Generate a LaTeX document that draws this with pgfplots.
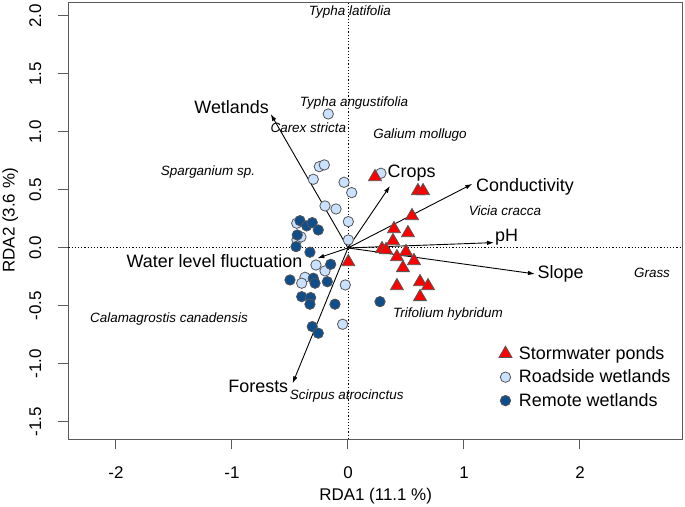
\documentclass[border=0pt]{standalone}
\usepackage{fontspec}
\setmainfont{Liberation Sans}
\usepackage{pgfplots}
\pgfplotsset{compat=1.18}
\usetikzlibrary{arrows.meta}
\definecolor{stormred}{RGB}{255,0,0}
\definecolor{roadblue}{RGB}{202,225,255}
\definecolor{remoteblue}{RGB}{16,78,139}
\definecolor{edgegray}{RGB}{85,85,85}
\definecolor{axisgray}{RGB}{90,90,90}
\begin{document}
\begin{tikzpicture}
\useasboundingbox (0,0) rectangle (685bp,507bp);
\begin{axis}[
  at={(68.3bp,68bp)}, anchor=south west,
  x=116bp, y=116bp,
  xmin=-2.411, xmax=2.888, ymin=-1.647, ymax=2.12,
  axis line style={axisgray, line width=1bp},
  tick align=outside, tick pos=left,
  tick style={axisgray, line width=1bp}, major tick length=10bp,
  xtick={-2,-1,0,1,2}, xticklabels={-2,-1,0,1,2},
  ytick={-1.5,-1,-0.5,0,0.5,1,1.5,2},
  yticklabels={-1.5,-1.0,-0.5,0.0,0.5,1.0,1.5,2.0},
  xticklabel style={font=\fontsize{17}{20}\selectfont, anchor=center, yshift=-24bp},
  yticklabel style={font=\fontsize{17}{20}\selectfont, anchor=center, xshift=-23bp, rotate=90},
  xlabel={RDA1 (11.1 \%)}, ylabel={RDA2 (3.6 \%)},
  xlabel style={font=\fontsize{17}{20}\selectfont, at={(axis description cs:0.5,-0.130)}, anchor=center},
  ylabel style={font=\fontsize{17}{20}\selectfont, at={(axis description cs:-0.0945,0.5)}, anchor=center},
  legend style={draw=none, fill=none, at={(axis cs:1.30,-0.83)}, anchor=north west,
    font=\fontsize{18}{20}\selectfont, row sep=5bp, inner sep=0pt, nodes={inner sep=2bp},
    /tikz/every odd column/.style={column sep=5bp}},
  legend cell align=left,
  clip=true,
]
% reference lines
\addplot[forget plot, black, line width=0.9bp, dash pattern=on 1.2bp off 2bp] coordinates {(0,-1.647) (0,2.12)};
\addplot[forget plot, black, line width=0.9bp, dash pattern=on 1.2bp off 2bp] coordinates {(-2.411,0) (2.888,0)};

% arrows
\addplot[forget plot, black, line width=0.9bp, -{Latex[length=7bp,width=4.5bp]}] coordinates {(0,0) (-0.666,1.155)};
\addplot[forget plot, black, line width=0.9bp, -{Latex[length=7bp,width=4.5bp]}] coordinates {(0,0) (0.362,0.534)};
\addplot[forget plot, black, line width=0.9bp, -{Latex[length=7bp,width=4.5bp]}] coordinates {(0,0) (1.072,0.552)};
\addplot[forget plot, black, line width=0.9bp, -{Latex[length=7bp,width=4.5bp]}] coordinates {(0,0) (1.259,0.046)};
\addplot[forget plot, black, line width=0.9bp, -{Latex[length=7bp,width=4.5bp]}] coordinates {(0,0) (1.612,-0.224)};
\addplot[forget plot, black, line width=0.9bp, -{Latex[length=7bp,width=4.5bp]}] coordinates {(0,0) (-0.264,-0.089)};
\addplot[forget plot, black, line width=0.9bp, -{Latex[length=7bp,width=4.5bp]}] coordinates {(0,0) (-0.477,-1.167)};

% Roadside wetlands
\addplot[forget plot, only marks, mark=*, mark size=5.2bp, mark options={fill=roadblue, draw=edgegray, line width=0.8bp}] coordinates {
(-0.247,0.701) (-0.204,0.716) (-0.299,0.592) (-0.034,0.566) (0.032,0.477)
(-0.198,0.362) (-0.103,0.336) (0.003,0.227) (0.003,0.069) (-0.442,0.213)
(-0.440,0.069) (-0.405,0.095) (0.284,0.644) (-0.276,-0.147) (-0.198,-0.198)
(-0.371,-0.253) (-0.399,-0.304) (-0.023,-0.319) (-0.046,-0.658) (-0.170,1.155)
};
% Remote wetlands
\addplot[forget plot, only marks, mark=*, mark size=5.2bp, mark options={fill=remoteblue, draw=edgegray, line width=0.8bp}] coordinates {
(-0.414,0.235) (-0.356,0.190) (-0.308,0.218) (-0.256,0.155) (-0.437,0.112)
(-0.448,0.011) (-0.328,-0.037) (-0.149,-0.141) (-0.500,-0.276) (-0.299,-0.261)
(-0.284,-0.304) (-0.178,-0.291) (-0.399,-0.420) (-0.322,-0.428) (-0.328,-0.485)
(-0.112,-0.485) (-0.308,-0.678) (-0.256,-0.735) (0.276,-0.463)
};
% Stormwater ponds
\addplot[forget plot, only marks, mark=triangle*, mark size=7.5bp, mark options={fill=stormred, draw=edgegray, line width=0.8bp}] coordinates {
(0.233,0.612) (0.603,0.491) (0.647,0.491) (0.552,0.276) (0.397,0.164)
(0.517,0.129) (0.388,0.060) (0.293,-0.009) (0.328,-0.017) (0.500,-0.034)
(0.422,-0.078) (0.569,-0.112) (0.474,-0.172) (0.621,-0.293) (0.690,-0.328)
(0.422,-0.328) (0.621,-0.422) (0.003,-0.121)
};

% arrow labels
\begin{scope}[every node/.style={font=\fontsize{18}{20}\selectfont, inner sep=0pt, anchor=center}]
\node at (axis cs:-1.003,1.213) {Wetlands};
\node at (axis cs:0.549,0.649) {Crops};
\node at (axis cs:1.526,0.523) {Conductivity};
\node at (axis cs:1.368,0.092) {pH};
\node at (axis cs:1.833,-0.224) {Slope};
\node at (axis cs:-1.151,-0.112) {Water level fluctuation};
\node at (axis cs:-0.773,-1.190) {Forests};
\end{scope}
% species labels
\begin{scope}[every node/.style={font=\fontsize{13.5}{15}\selectfont\itshape, inner sep=0pt, anchor=center}]
\node at (axis cs:0.017,2.034) {Typha latifolia};
\node at (axis cs:0.052,1.250) {Typha angustifolia};
\node at (axis cs:-0.342,1.040) {Carex stricta};
\node at (axis cs:0.621,0.974) {Galium mollugo};
\node at (axis cs:-1.207,0.655) {Sparganium sp.};
\node at (axis cs:1.353,0.322) {Vicia cracca};
\node at (axis cs:2.621,-0.216) {Grass};
\node at (axis cs:0.862,-0.569) {Trifolium hybridum};
\node at (axis cs:-1.543,-0.612) {Calamagrostis canadensis};
\node at (axis cs:-0.011,-1.276) {Scirpus atrocinctus};
\end{scope}

\addlegendimage{only marks, mark=triangle*, mark size=7.5bp, mark options={fill=stormred, draw=edgegray, line width=0.8bp}}
\addlegendentry{Stormwater ponds}
\addlegendimage{only marks, mark=*, mark size=5.2bp, mark options={fill=roadblue, draw=edgegray, line width=0.8bp}}
\addlegendentry{Roadside wetlands}
\addlegendimage{only marks, mark=*, mark size=5.2bp, mark options={fill=remoteblue, draw=edgegray, line width=0.8bp}}
\addlegendentry{Remote wetlands}
\end{axis}
\end{tikzpicture}
\end{document}
